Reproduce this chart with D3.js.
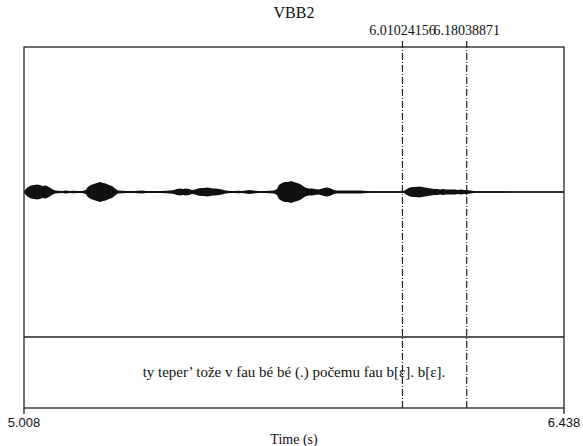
<!DOCTYPE html>
<html>
<head>
<meta charset="utf-8">
<script src="https://cdnjs.cloudflare.com/ajax/libs/d3/7.8.5/d3.min.js"></script>
<style>
  body { margin: 0; background: #fff; }
</style>
</head>
<body>
<script>
// data
var title = "VBB2";
var timeRange = [5.008, 6.438];
var cursorTimes = [6.01024156, 6.18038871];
var cursorLabels = ["6.01024156", "6.18038871"];
var tierText = "ty teper\u2019 tože v fau bé bé (.) počemu fau b[ɛ].  b[ɛ].";
var axisTitle = "Time (s)";

// waveform envelope (time in s, half amplitude in thousandths of full scale)
var envTime = [5.008, 5.013, 5.019, 5.027, 5.034, 5.042, 5.050, 5.058, 5.066, 5.074, 5.082, 5.090, 5.098,
  5.109, 5.119, 5.130, 5.140, 5.151, 5.162, 5.172, 5.177, 5.185, 5.193, 5.201, 5.209, 5.217, 5.225, 5.233,
  5.241, 5.249, 5.257, 5.268, 5.278, 5.289, 5.299, 5.310, 5.320, 5.331, 5.342, 5.352, 5.363, 5.373, 5.384,
  5.395, 5.405, 5.413, 5.421, 5.429, 5.437, 5.445, 5.453, 5.461, 5.469, 5.477, 5.485, 5.493, 5.501, 5.508,
  5.516, 5.524, 5.532, 5.543, 5.553, 5.564, 5.575, 5.585, 5.596, 5.606, 5.617, 5.628, 5.638, 5.649, 5.659,
  5.670, 5.678, 5.683, 5.691, 5.699, 5.707, 5.715, 5.723, 5.731, 5.739, 5.747, 5.755, 5.763, 5.771, 5.779,
  5.787, 5.794, 5.802, 5.810, 5.818, 5.826, 5.834, 5.845, 5.855, 5.866, 5.877, 5.887, 5.898, 5.908, 5.919,
  5.930, 5.951, 5.977, 6.004, 6.014, 6.022, 6.030, 6.038, 6.046, 6.054, 6.062, 6.070, 6.078, 6.086, 6.094,
  6.102, 6.110, 6.118, 6.125, 6.133, 6.141, 6.149, 6.157, 6.165, 6.173, 6.181, 6.189, 6.200, 6.216, 6.242,
  6.268, 6.295, 6.321, 6.348, 6.374, 6.401, 6.427, 6.438];
var envAmp = [3, 21, 34, 45, 48, 52, 48, 41, 45, 34, 21, 10, 8,
  7, 10, 7, 8, 7, 7, 14, 34, 48, 55, 62, 69, 62, 59, 48,
  41, 24, 10, 8, 7, 7, 7, 8, 10, 7, 7, 7, 7, 7, 8,
  10, 14, 21, 24, 21, 24, 21, 14, 17, 24, 28, 28, 31, 28, 24,
  24, 21, 17, 10, 7, 7, 8, 7, 10, 14, 10, 7, 7, 7, 8,
  10, 21, 48, 62, 69, 69, 76, 69, 62, 55, 41, 28, 24, 24, 21,
  17, 21, 28, 31, 28, 17, 10, 10, 10, 10, 10, 10, 10, 8, 7,
  6, 5, 5, 5, 7, 21, 31, 34, 34, 38, 34, 31, 28, 24, 21,
  21, 17, 21, 17, 17, 17, 17, 14, 17, 14, 14, 10, 7, 6, 5,
  5, 4, 4, 4, 3, 3, 3, 3];

var W = 583, H = 446;
var plotLeft = 24, plotRight = 564, plotTop = 47, tierTop = 337, plotBottom = 408;
var serif = "'Liberation Serif', 'DejaVu Serif', 'Times New Roman', serif";
var sans = "'Liberation Sans', 'DejaVu Sans', Arial, sans-serif";

var svg = d3.select("body").append("svg")
    .attr("width", W)
    .attr("height", H);

var x = d3.scaleLinear().domain(timeRange).range([plotLeft, plotRight]);
var y = d3.scaleLinear().domain([-1000, 1000]).range([tierTop, plotTop]);

var env = envTime.map(function(t, i) { return {t: t, a: envAmp[i]}; });

// waveform envelope
var area = d3.area()
    .x(function(d) { return x(d.t); })
    .y0(function(d) { return y(-d.a); })
    .y1(function(d) { return y(d.a); });

svg.append("path")
    .datum(env)
    .attr("d", area)
    .attr("fill", "#111");

svg.append("line")
    .attr("x1", x(timeRange[0])).attr("x2", x(timeRange[1]))
    .attr("y1", y(0)).attr("y2", y(0))
    .attr("stroke", "#111")
    .attr("stroke-width", 1.4);

// frame and tier separator
svg.append("rect")
    .attr("x", plotLeft).attr("y", plotTop)
    .attr("width", plotRight - plotLeft).attr("height", plotBottom - plotTop)
    .attr("fill", "none")
    .attr("stroke", "#222")
    .attr("stroke-width", 1.3);

svg.append("line")
    .attr("x1", plotLeft).attr("x2", plotRight)
    .attr("y1", tierTop).attr("y2", tierTop)
    .attr("stroke", "#222")
    .attr("stroke-width", 1.3);

// end ticks below the frame
svg.selectAll(".endtick")
    .data(timeRange)
  .enter().append("line")
    .attr("class", "endtick")
    .attr("x1", function(d) { return x(d); })
    .attr("x2", function(d) { return x(d); })
    .attr("y1", plotBottom).attr("y2", plotBottom + 6)
    .attr("stroke", "#222")
    .attr("stroke-width", 1.3);

// cursor lines
svg.selectAll(".cursor")
    .data(cursorTimes)
  .enter().append("line")
    .attr("class", "cursor")
    .attr("x1", function(d) { return x(d); })
    .attr("x2", function(d) { return x(d); })
    .attr("y1", plotTop - 6).attr("y2", plotBottom)
    .attr("stroke", "#222")
    .attr("stroke-width", 1.2)
    .attr("stroke-dasharray", "7,2,1,2");

svg.selectAll(".cursorLabel")
    .data(cursorTimes)
  .enter().append("text")
    .attr("class", "cursorLabel")
    .attr("x", function(d) { return x(d); })
    .attr("y", 35)
    .attr("text-anchor", "middle")
    .attr("font-family", serif)
    .attr("font-size", 14)
    .attr("fill", "#111")
    .text(function(d, i) { return cursorLabels[i]; });

// title
svg.append("text")
    .attr("x", (plotLeft + plotRight) / 2)
    .attr("y", 18)
    .attr("text-anchor", "middle")
    .attr("font-family", serif)
    .attr("font-size", 16)
    .attr("fill", "#111")
    .text(title);

// tier interval text
svg.append("text")
    .attr("x", (plotLeft + plotRight) / 2)
    .attr("y", 377)
    .attr("text-anchor", "middle")
    .attr("font-family", serif)
    .attr("font-size", 15)
    .attr("fill", "#111")
    .text(tierText);

// axis end labels
svg.selectAll(".endLabel")
    .data(timeRange)
  .enter().append("text")
    .attr("class", "endLabel")
    .attr("x", function(d) { return x(d); })
    .attr("y", 427)
    .attr("text-anchor", "middle")
    .attr("font-family", sans)
    .attr("font-size", 13)
    .attr("fill", "#111")
    .text(function(d) { return d3.format(".3f")(d); });

svg.append("text")
    .attr("x", (plotLeft + plotRight) / 2)
    .attr("y", 444)
    .attr("text-anchor", "middle")
    .attr("font-family", serif)
    .attr("font-size", 14)
    .attr("fill", "#111")
    .text(axisTitle);
</script>
</body>
</html>
